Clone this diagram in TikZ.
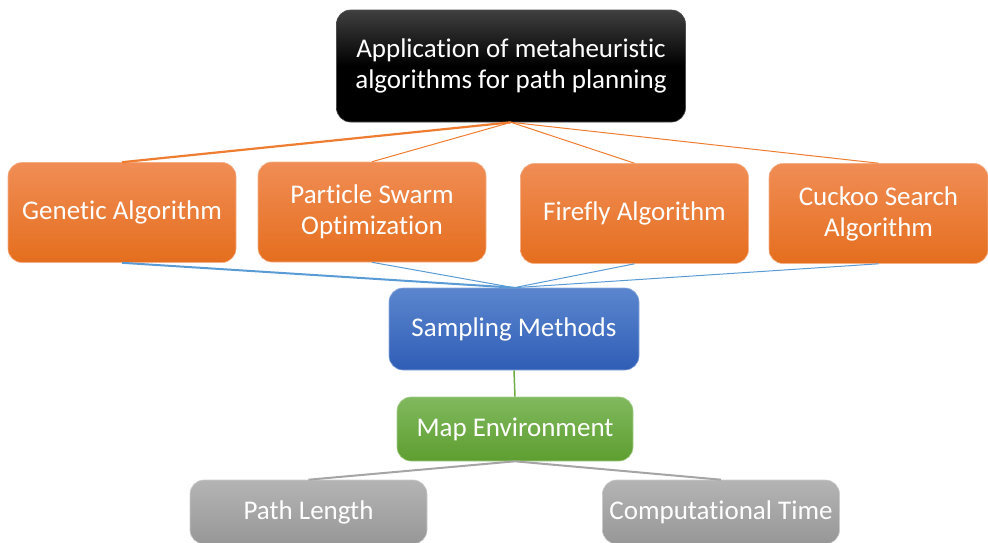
\documentclass[tikz,border=0pt]{standalone}
\usepackage{fontspec}
\setmainfont[Ligatures=NoCommon]{Carlito}
\usetikzlibrary{positioning}

\definecolor{algotop}{HTML}{F08D55}
\definecolor{algobot}{HTML}{E56E1E}
\definecolor{algoline}{HTML}{EE7D31}
\definecolor{samptop}{HTML}{5B86CE}
\definecolor{sampbot}{HTML}{2F5DB6}
\definecolor{sampline}{HTML}{5B9BD5}
\definecolor{maptop}{HTML}{80B95E}
\definecolor{mapbot}{HTML}{5E9E30}
\definecolor{mapline}{HTML}{70AD47}
\definecolor{evaltop}{HTML}{B4B4B4}
\definecolor{evalbot}{HTML}{979797}
\definecolor{evalline}{HTML}{A5A5A5}

\begin{document}
\begin{tikzpicture}[x=1pt, y=-1pt, every node/.style={font=\fontsize{27}{31}\selectfont, text=white}]
    \tikzset{box/.style={rectangle, rounded corners=14pt, align=center, inner sep=0pt, line width=0.6pt}}
    \tikzset{head/.style={box, top color=black!75, bottom color=black, middle color=black, draw=black!70, minimum width=349pt, minimum height=112pt}}
    \tikzset{algo/.style={box, top color=algotop, bottom color=algobot, draw=algotop!70!white, minimum width=228pt, minimum height=100pt}}
    \tikzset{samp/.style={box, top color=samptop, bottom color=sampbot, draw=samptop!70!white, minimum width=250pt, minimum height=82pt}}
    \tikzset{env/.style={box, top color=maptop, bottom color=mapbot, draw=maptop!70!white, minimum width=236pt, minimum height=64pt}}
    \tikzset{eval/.style={box, top color=evaltop, bottom color=evalbot, draw=evaltop!70!white, minimum width=237pt, minimum height=64pt}}

    \useasboundingbox (0,0) rectangle (988,542);

    % Goal
    \node [head] (app) at (511,66) {Application of metaheuristic\\algorithms for path planning};

    % Algorithms
    \node [algo] (ga) at (122,212.5) {Genetic Algorithm};
    \node [algo] (pso) at (372,212) {Particle Swarm\\Optimization};
    \node [algo] (fa) at (634.5,213.5) {Firefly Algorithm};
    \node [algo, minimum width=219pt] (cs) at (878.5,213.5) {Cuckoo Search\\Algorithm};

    % Method and environment
    \node [samp] (samp) at (514,329) {Sampling Methods};
    \node [env] (map) at (515,429) {Map Environment};

    % Criteria
    \node [eval] (plen) at (308.5,512) {Path Length};
    \node [eval] (ctime) at (721,512) {Computational Time};

    \draw [algoline, line width=2.2pt] (app.south) -- (ga.north);
    \draw [algoline, line width=1pt] (app.south) -- (pso.north);
    \draw [algoline, line width=1pt] (app.south) -- (fa.north);
    \draw [algoline, line width=1pt] (app.south) -- (cs.north);

    \draw [sampline, line width=2pt] (ga.south) -- (samp.north);
    \draw [sampline, line width=1pt] (pso.south) -- (samp.north);
    \draw [sampline, line width=1pt] (fa.south) -- (samp.north);
    \draw [sampline, line width=1pt] (cs.south) -- (samp.north);

    \draw [mapline, line width=1.5pt] (samp.south) -- (map.north);

    \draw [evalline, line width=2pt] (map.south) -- (plen.north);
    \draw [evalline, line width=2pt] (map.south) -- (ctime.north);
\end{tikzpicture}
\end{document}
